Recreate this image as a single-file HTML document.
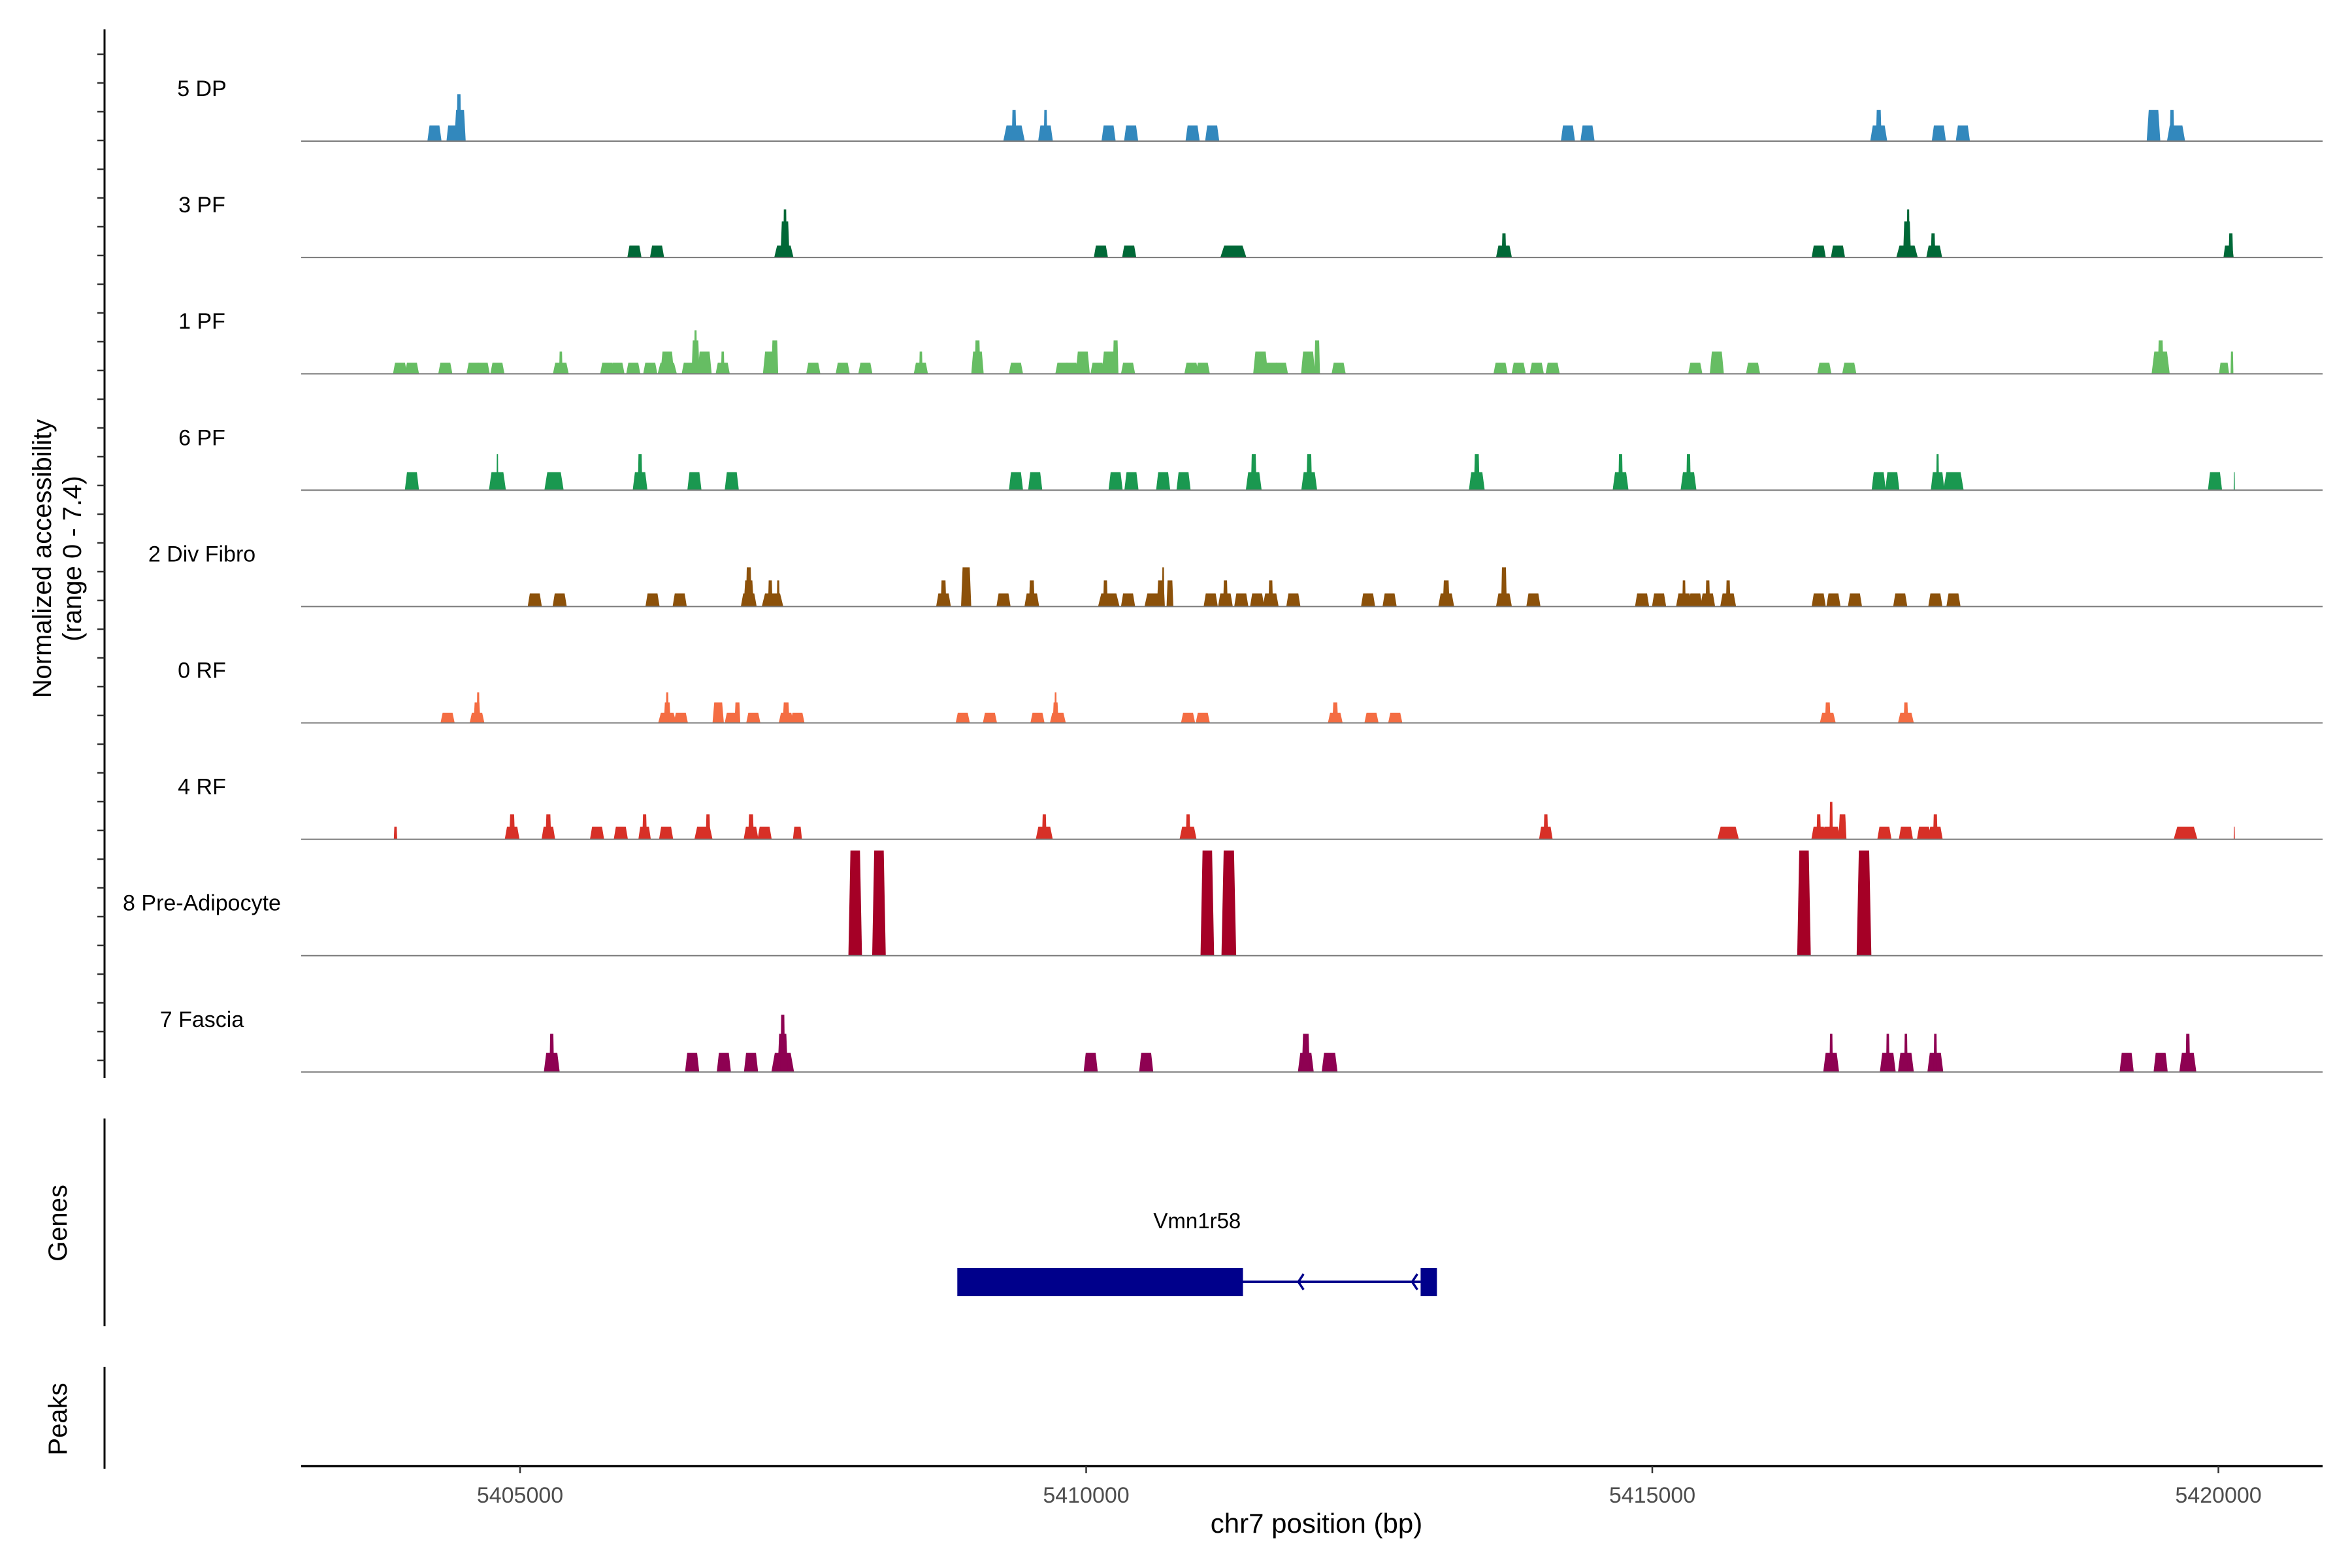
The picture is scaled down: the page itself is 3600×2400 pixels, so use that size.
<!DOCTYPE html>
<html><head><meta charset="utf-8">
<style>
html,body{margin:0;padding:0;background:#fff;}
svg{display:block;font-family:"Liberation Sans",sans-serif;}
</style></head>
<body>
<svg id="chart" width="3600" height="2400" viewBox="0 0 3600 2400" xmlns="http://www.w3.org/2000/svg">
<rect width="3600" height="2400" fill="#fff"/>
<g id="tracks"></g>
<g id="yaxis"></g>
<text transform="translate(78,855) rotate(-90)" text-anchor="middle" font-size="40" fill="#000">Normalized accessibility</text>
<text transform="translate(124,855) rotate(-90)" text-anchor="middle" font-size="40" fill="#000">(range 0 - 7.4)</text>
<line x1="160" y1="1712" x2="160" y2="2030" stroke="#000" stroke-width="3"/>
<text transform="translate(102,1872) rotate(-90)" text-anchor="middle" font-size="40" fill="#000">Genes</text>
<line x1="160" y1="2092" x2="160" y2="2248" stroke="#000" stroke-width="3"/>
<text transform="translate(102,2172) rotate(-90)" text-anchor="middle" font-size="40" fill="#000">Peaks</text>
<g id="gene"></g>
<g id="xaxis"></g>
<text x="2015" y="2346" text-anchor="middle" font-size="42" fill="#000">chr7 position (bp)</text>
</svg>
<script>
const trackNames = ["5 DP","3 PF","1 PF","6 PF","2 Div Fibro","0 RF","4 RF","8 Pre-Adipocyte","7 Fascia"];
const trackColors = ["#3288bd","#006837","#66bd63","#1a9850","#8c510a","#f46d43","#d73027","#a50026","#8e0152"];
const xTicks = [5405000,5410000,5415000,5420000];
const xTickLabels = ["5405000","5410000","5415000","5420000"];
const peaks5DP = [[5404244,1.04],[5404400,1.04,100],[5404470,2.08,100],[5404460,3.12,40],[5409363,1.04,190],[5409363,2.08,40],[5409641,1.04,130],[5409641,2.08,30],[5410198,1.04],[5410397,1.04],[5410940,1.04],[5411113,1.04],[5414255,1.04],[5414428,1.04],[5417000,1.04,150],[5417000,2.08,50],[5417531,1.04],[5417743,1.04],[5419427,2.08,120],[5419626,1.04,160],[5419590,2.08,40]];
const peaks3PF = [[5406010,0.8],[5406210,0.8],[5407330,0.8,170],[5407340,2.4,80],[5407340,3.2,30],[5410130,0.8],[5410380,0.8],[5411300,0.8,230],[5413690,0.8,140],[5413690,1.6,40],[5416470,0.8],[5416640,0.8],[5417250,0.8,190],[5417250,2.4,70],[5417260,3.2,25],[5417490,0.8,140],[5417480,1.6,40],[5420090,0.8,90],[5420110,1.6,40]];
const peaks1PF = [[5403940,0.74],[5404045,0.74],[5404340,0.74],[5404590,0.74],[5404670,0.74],[5404800,0.74],[5405360,0.74,140],[5405360,1.48,30],[5405770,0.74],[5405860,0.74],[5406000,0.74],[5406150,0.74],[5406300,1.48,120],[5406300,0.74,170],[5406490,0.74],[5406550,2.22,70],[5406550,2.9,25],[5406630,1.48],[5406790,0.74],[5406790,1.48,30],[5407210,1.48,130],[5407250,2.22,60],[5407590,0.74],[5407850,0.74],[5408050,0.74],[5408540,0.74],[5408540,1.48,30],[5409040,1.48,110],[5409040,2.22,50],[5409380,0.74],[5409790,0.74],[5409870,0.74],[5409970,1.48],[5410100,0.74],[5410200,1.48],[5410260,2.22,50],[5410370,0.74],[5410930,0.74],[5411030,0.74],[5411540,1.48,130],[5411640,0.74],[5411720,0.74],[5411960,1.48],[5412040,2.22,50],[5412230,0.74],[5413660,0.74],[5413820,0.74],[5413980,0.74],[5414120,0.74],[5415380,0.74],[5415570,1.48],[5415890,0.74],[5416520,0.74],[5416740,0.74],[5419490,1.48,160],[5419490,2.22,50],[5420050,0.74,90],[5420120,1.48,25]];
const peaks6PF = [[5404045,1.2],[5404800,1.2,150],[5404800,2.4,15],[5405300,1.2,170],[5406060,1.2,130],[5406060,2.4,40],[5406540,1.2],[5406870,1.2],[5409380,1.2],[5409550,1.2],[5410260,1.2],[5410400,1.2],[5410680,1.2],[5410860,1.2],[5411480,1.2,140],[5411480,2.4,50],[5411970,1.2,140],[5411970,2.4,50],[5413450,1.2,140],[5413450,2.4,50],[5414720,1.2,140],[5414720,2.4,40],[5415320,1.2,140],[5415320,2.4,40],[5417000,1.2],[5417120,1.2],[5417520,1.2,120],[5417520,2.4,25],[5417660,1.2,180],[5419970,1.2],[5420140,1.2,10]];
const peaksDivFibro = [[5405130,0.87],[5405350,0.87],[5406170,0.87],[5406410,0.87],[5407020,0.87,140],[5407020,1.74,90],[5407020,2.61,50],[5407230,0.87,190],[5407210,1.74,40],[5407280,1.74,25],[5408740,0.87,130],[5408740,1.74,50],[5408940,2.61,90],[5409270,0.87],[5409520,0.87,130],[5409520,1.74,50],[5410200,0.87,190],[5410170,1.74,40],[5410370,0.87],[5410600,0.87,170],[5410660,1.74,70],[5410680,2.61,20],[5410740,1.74,60],[5411100,0.87],[5411230,0.87,130],[5411230,1.74,40],[5411370,0.87],[5411510,0.87],[5411630,0.87,140],[5411630,1.74,40],[5411830,0.87],[5412490,0.87],[5412680,0.87],[5413180,0.87,140],[5413180,1.74,60],[5413690,0.87,140],[5413690,2.61,50],[5413950,0.87],[5414910,0.87],[5415060,0.87],[5415280,0.87,140],[5415280,1.74,30],[5415380,0.87],[5415490,0.87,130],[5415490,1.74,40],[5415670,0.87,140],[5415670,1.74,40],[5416470,0.87],[5416600,0.87],[5416790,0.87],[5417190,0.87],[5417500,0.87],[5417660,0.87]];
const peaks0RF = [[5404360,0.68],[5404620,0.68,130],[5404620,1.36,60],[5404630,2.04,25],[5406300,0.68,160],[5406300,1.36,60],[5406300,2.04,25],[5406420,0.68],[5406750,1.36,100],[5406870,0.68],[5406920,1.36,50],[5407060,0.68],[5407350,0.68,130],[5407350,1.36,60],[5407450,0.68],[5408910,0.68],[5409150,0.68],[5409570,0.68],[5409750,0.68,140],[5409730,1.36,50],[5409730,2.04,20],[5410900,0.68],[5411030,0.68],[5412200,0.68,130],[5412200,1.36,50],[5412520,0.68],[5412730,0.68],[5416550,0.68,140],[5416550,1.36,50],[5417240,0.68,140],[5417240,1.36,40]];
const peaks4RF = [[5403900,0.83,30],[5404930,0.83,130],[5404930,1.66,50],[5405250,0.83,120],[5405250,1.66,50],[5405680,0.83],[5405890,0.83],[5406100,0.83,110],[5406100,1.66,40],[5406290,0.83],[5406620,0.83,160],[5406660,1.66,40],[5407040,0.83,130],[5407040,1.66,50],[5407160,0.83],[5407450,0.83,80],[5409630,0.83,150],[5409630,1.66,40],[5410900,0.83,150],[5410900,1.66,40],[5414060,0.83,120],[5414060,1.66,40],[5415670,0.83,190],[5416470,0.83,130],[5416470,1.66,40],[5416580,0.83,170],[5416580,2.49,30],[5416680,1.66,70],[5417050,0.83],[5417240,0.83],[5417400,0.83],[5417500,0.83,130],[5417500,1.66,40],[5419710,0.83,210],[5420140,0.83,10]];
const peaksPreAdipo = [[5407960,7.0,120],[5408170,7.0,120],[5411070,7.0,120],[5411260,7.0,130],[5416340,7.0,120],[5416870,7.0,130]];
const peaksFascia = [[5405280,1.27,140],[5405280,2.54,40],[5406520,1.27],[5406800,1.27],[5407040,1.27],[5407320,1.27,200],[5407320,2.54,90],[5407320,3.81,40],[5410040,1.27],[5410530,1.27],[5411940,1.27,140],[5411940,2.54,70],[5412150,1.27,140],[5416580,1.27,140],[5416580,2.54,30],[5417080,1.27,140],[5417080,2.54,30],[5417240,1.27,140],[5417240,2.54,30],[5417500,1.27,140],[5417500,2.54,30],[5419190,1.27],[5419490,1.27],[5419730,1.27,150],[5419730,2.54,40]];
const trackPeaks = [peaks5DP,peaks3PF,peaks1PF,peaks6PF,peaksDivFibro,peaks0RF,peaks4RF,peaksPreAdipo,peaksFascia];
const geneExon1 = [5408862,5411385];
const geneExon2 = [5412954,5413098];
const geneArrows = [5411874,5412879];

const NS = "http://www.w3.org/2000/svg";
const plotX0 = 461, plotX1 = 3555;
function xScale(bp){ return 796 + (bp - 5405000) * 0.1733; }
const baseY0 = 216, trackStep = 178.1, pxPerUnit = 23;
function baseline(i){ return baseY0 + i * trackStep; }
function yScale(i, v){ return baseline(i) - v * pxPerUnit; }
function mk(tag, attrs, parent){
  const el = document.createElementNS(NS, tag);
  for (const k in attrs) el.setAttribute(k, attrs[k]);
  parent.appendChild(el); return el;
}

const tracks = document.getElementById("tracks");
trackNames.forEach((name, i) => {
  const g = mk("g", {}, tracks);
  
  
  const lbl = mk("text", {x:309, y:baseline(i)-69, "text-anchor":"middle", "font-size":34, fill:"#000"}, g);
  
  
  lbl.textContent = name;
  trackPeaks[i].forEach(p => {
    const c = p[0], v = p[1], w = p[2] || 125;
    const xl = xScale(c - w/2), xr = xScale(c + w/2);
    const tl = xScale(c - w*0.35), tr = xScale(c + w*0.35);
    const yb = baseline(i), yt = yScale(i, v);
    const poly = mk("polygon", {points:`${xl},${yb} ${tl},${yt} ${tr},${yt} ${xr},${yb}`, fill:trackColors[i]}, g);
    
    
  });
  const bl = mk("line", {x1:plotX0, x2:plotX1, y1:baseline(i), y2:baseline(i), stroke:"#7a7a7a", "stroke-width":2}, g);
  
  
});

const yaxis = document.getElementById("yaxis");
const ax = mk("line", {x1:160, x2:160, y1:45, y2:1650, stroke:"#000", "stroke-width":3}, yaxis);


for (let y = 83; y < 1648; y += 44) {
  const t = mk("line", {x1:149, x2:160, y1:y, y2:y, stroke:"#333", "stroke-width":2.5}, yaxis);
  
  
}

const gene = document.getElementById("gene");
const gl = mk("line", {x1:xScale(geneExon1[1]), x2:xScale(geneExon2[0]), y1:1962, y2:1962, stroke:"#00008b", "stroke-width":4}, gene);


const e1 = mk("rect", {x:xScale(geneExon1[0]), y:1941, width:xScale(geneExon1[1])-xScale(geneExon1[0]), height:43, fill:"#00008b"}, gene);


const e2 = mk("rect", {x:xScale(geneExon2[0]), y:1941, width:xScale(geneExon2[1])-xScale(geneExon2[0]), height:43, fill:"#00008b"}, gene);


geneArrows.forEach(a => {
  const x = xScale(a);
  const ar = mk("polyline", {points:`${x+8},${1950} ${x},${1962} ${x+8},${1974}`, fill:"none", stroke:"#00008b", "stroke-width":3.5}, gene);
  
  
});
const gn = mk("text", {x:(xScale(geneExon1[0])+xScale(geneExon2[1]))/2, y:1880, "text-anchor":"middle", "font-size":33, fill:"#000"}, gene);


gn.textContent = "Vmn1r58";

const xaxis = document.getElementById("xaxis");
const xl = mk("line", {x1:plotX0, x2:plotX1, y1:2244, y2:2244, stroke:"#000", "stroke-width":3.5}, xaxis);


xTicks.forEach((t, k) => {
  const x = xScale(t);
  const tk = mk("line", {x1:x, x2:x, y1:2244, y2:2255, stroke:"#333", "stroke-width":2.5}, xaxis);
  
  
  const tl = mk("text", {x:x, y:2300, "text-anchor":"middle", "font-size":34, fill:"#4d4d4d"}, xaxis);
  
  
  tl.textContent = xTickLabels[k];
});
</script>
</body></html>
